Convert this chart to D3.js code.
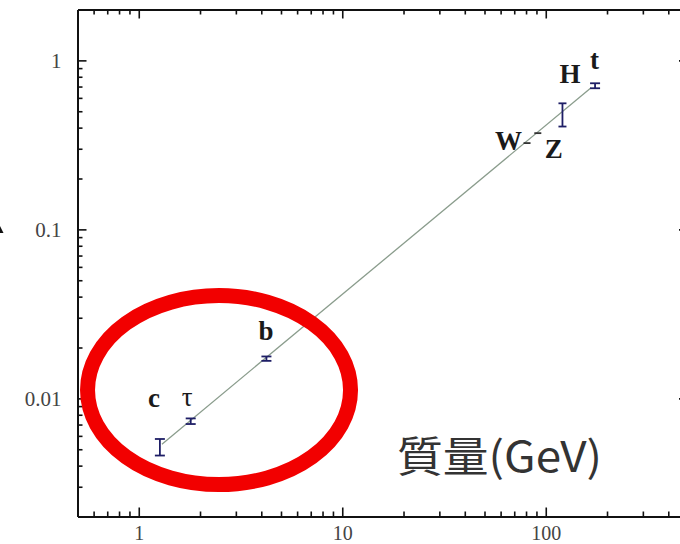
<!DOCTYPE html>
<html>
<head>
<meta charset="utf-8">
<script src="https://cdn.jsdelivr.net/npm/d3@7"></script>
<style>
  body { margin: 0; background: #fff; }
  svg { display: block; }
</style>
</head>
<body>
<svg id="chart" width="680" height="544"></svg>
<script>
// Fermion and boson couplings to the Higgs field versus mass (GeV)
const particles    = ["c", "τ", "b", "W", "Z", "H", "t"];
const massGeV      = [1.27, 1.80, 4.24, 80.9, 91.4, 120.8, 174.7];
const couplingLow  = [0.00459, 0.00705, 0.01667, 0.324, 0.371, 0.406, 0.684];
const couplingHigh = [0.00575, 0.00761, 0.01770, 0.324, 0.371, 0.557, 0.732];

// straight-line trend through the measured points
const trendMass     = [1.30, 167];
const trendCoupling = [0.00536, 0.689];

// highlighted region (light quarks / leptons)
const highlightMass = [2.48];
const highlightCoupling = [0.0112];

const xTickValues = [1, 10, 100];
const xTickLabels = ["1", "10", "100"];
const yTickValues = [1, 0.1, 0.01];
const yTickLabels = ["1", "0.1", "0.01"];
const xMinorTicks = [0.6, 0.7, 0.8, 0.9, 2, 3, 4, 5, 6, 7, 8, 9,
                     20, 30, 40, 50, 60, 70, 80, 90, 200, 300, 400];
const yMinorTicks = [0.003, 0.004, 0.005, 0.006, 0.007, 0.008, 0.009,
                     0.02, 0.03, 0.04, 0.05, 0.06, 0.07, 0.08, 0.09,
                     0.2, 0.3, 0.4, 0.5, 0.6, 0.7, 0.8, 0.9];
const axisTitle = "質量(GeV)";

// label placement relative to each marker (pixels)
const labelLayout = {
  "c": { dx: -12, dy: -40, anchor: "start", weight: "bold" },
  "τ": { dx: -9,  dy: -15, anchor: "start", weight: "normal" },
  "b": { dx: -8,  dy: -19, anchor: "start", weight: "bold" },
  "W": { dx: -5,  dy: 7,   anchor: "end",   weight: "bold" },
  "Z": { dx: 7,   dy: 25,  anchor: "start", weight: "bold" },
  "H": { dx: -3,  dy: -32, anchor: "start", weight: "bold" },
  "t": { dx: -5,  dy: -17, anchor: "start", weight: "bold" }
};

const svg = d3.select("#chart");
const plotLeft = 77.5, plotRight = 688, plotTop = 9.5, plotBottom = 516.5;

const x = d3.scaleLog().domain([0.5, 500]).range([plotLeft, plotRight]);
const y = d3.scaleLog().domain([0.002, 2]).range([plotBottom, plotTop]);

const serif = "'Liberation Serif', 'Times New Roman', serif";

// ---- axes ----
function styleAxis(g, size) {
  g.select(".domain").attr("stroke", "#111").attr("stroke-width", 2);
  g.selectAll(".tick line").attr("stroke", "#111").attr("stroke-width", 1.6);
  g.selectAll(".tick text")
    .attr("font-family", serif)
    .attr("font-size", size || 21)
    .attr("fill", "#444");
}

const axes = svg.append("g");

axes.append("g").attr("transform", `translate(0,${plotBottom})`)
  .call(d3.axisBottom(x).tickValues(xMinorTicks).tickFormat("").tickSizeInner(-5).tickSizeOuter(0))
  .call(styleAxis);
const xAxisMajor = axes.append("g").attr("transform", `translate(0,${plotBottom})`)
  .call(d3.axisBottom(x).tickValues(xTickValues).tickFormat((d, i) => xTickLabels[i])
    .tickSizeInner(-9).tickSizeOuter(0).tickPadding(9))
  .call(g => styleAxis(g, 20));
xAxisMajor.selectAll(".tick text").attr("dy", "0.7em");

axes.append("g").attr("transform", `translate(0,${plotTop})`)
  .call(d3.axisTop(x).tickValues(xMinorTicks).tickFormat("").tickSizeInner(-5).tickSizeOuter(0))
  .call(styleAxis);
axes.append("g").attr("transform", `translate(0,${plotTop})`)
  .call(d3.axisTop(x).tickValues(xTickValues).tickFormat("").tickSizeInner(-9).tickSizeOuter(0))
  .call(styleAxis);

axes.append("g").attr("transform", `translate(${plotLeft},0)`)
  .call(d3.axisLeft(y).tickValues(yMinorTicks).tickFormat("").tickSizeInner(-5).tickSizeOuter(0))
  .call(styleAxis);
axes.append("g").attr("transform", `translate(${plotLeft},0)`)
  .call(d3.axisLeft(y).tickValues(yTickValues).tickFormat((d, i) => yTickLabels[i])
    .tickSizeInner(-9).tickSizeOuter(0).tickPadding(16))
  .call(styleAxis);

axes.append("g").attr("transform", `translate(${plotRight},0)`)
  .call(d3.axisRight(y).tickValues(yTickValues).tickFormat("").tickSizeInner(-9).tickSizeOuter(0))
  .call(styleAxis);

// ---- trend line ----
const line = d3.line().x(d => x(d[0])).y(d => y(d[1]));
svg.append("path")
  .datum(d3.zip(trendMass, trendCoupling))
  .attr("d", line)
  .attr("fill", "none")
  .attr("stroke", "#8a9c8c")
  .attr("stroke-width", 1.3);

// ---- error bars ----
const rows = particles.map((p, i) => ({
  name: p, m: massGeV[i], lo: couplingLow[i], hi: couplingHigh[i]
}));

const bars = svg.append("g").selectAll("g").data(rows).join("g");
bars.each(function(d) {
  const g = d3.select(this);
  const cx = x(d.m);
  if (d.lo === d.hi) {
    g.append("line")
      .attr("x1", cx - 3.5).attr("x2", cx + 3.5)
      .attr("y1", y(d.lo)).attr("y2", y(d.lo))
      .attr("stroke", "#333").attr("stroke-width", 1.8);
    return;
  }
  const col = "#1e1e66";
  const w = d.name === "H" ? 4 : 5;
  g.append("line").attr("x1", cx).attr("x2", cx)
    .attr("y1", y(d.lo)).attr("y2", y(d.hi))
    .attr("stroke", col).attr("stroke-width", 1.8);
  [d.lo, d.hi].forEach(v => {
    g.append("line").attr("x1", cx - w).attr("x2", cx + w)
      .attr("y1", y(v)).attr("y2", y(v))
      .attr("stroke", col).attr("stroke-width", 1.8);
  });
});

// ---- particle labels ----
svg.append("g").selectAll("text").data(rows).join("text")
  .attr("x", d => x(d.m) + labelLayout[d.name].dx)
  .attr("y", d => y(Math.sqrt(d.lo * d.hi)) + labelLayout[d.name].dy)
  .attr("text-anchor", d => labelLayout[d.name].anchor)
  .attr("font-family", serif)
  .attr("font-weight", d => labelLayout[d.name].weight)
  .attr("font-size", 27)
  .attr("fill", "#1a1a1a")
  .text(d => d.name);

// ---- axis title ----
svg.append("text")
  .attr("x", 397)
  .attr("y", 472)
  .attr("font-family", "'Noto Sans CJK JP', 'Noto Sans', sans-serif")
  .attr("font-size", 42)
  .attr("fill", "#333")
  .attr("textLength", 205)
  .attr("lengthAdjust", "spacingAndGlyphs")
  .text(axisTitle);

// ---- highlight ring ----
svg.append("ellipse")
  .attr("cx", x(highlightMass[0]))
  .attr("cy", y(highlightCoupling[0]))
  .attr("rx", 131.5)
  .attr("ry", 94.5)
  .attr("fill", "none")
  .attr("stroke", "#f20000")
  .attr("stroke-width", 15);

// clipped edge of the left-hand marker
svg.append("path")
  .attr("d", "M0,226 L3.5,233 L0,233 Z")
  .attr("fill", "#111");
</script>
</body>
</html>
